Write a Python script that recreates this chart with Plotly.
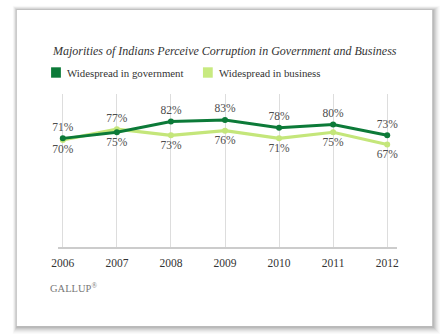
import plotly.graph_objects as go

# Survey years and share of Indians saying corruption is widespread (%)
years = [2006, 2007, 2008, 2009, 2010, 2011, 2012]
government = [71, 75, 82, 83, 78, 80, 73]
business = [70, 77, 73, 76, 71, 75, 67]
series_names = ["Widespread in government", "Widespread in business"]
title_text = "Majorities of Indians Perceive Corruption in Government and Business"

GOV_COLOR = "#0c7a38"
BIZ_COLOR = "#c4e67a"
SERIF = "Liberation Serif, Times New Roman, serif"
W, H = 444, 336


def px(x):
    return x / W


def py(y):
    return 1 - y / H


# label placement: the higher series of each year gets its label above
gov_pos = ["top center" if g >= b else "bottom center" for g, b in zip(government, business)]
biz_pos = ["top center" if b > g else "bottom center" for g, b in zip(government, business)]

fig = go.Figure()

fig.add_trace(go.Scatter(
    x=years, y=business, name=series_names[1], mode="lines+markers+text",
    line=dict(color=BIZ_COLOR, width=3.2), marker=dict(color=BIZ_COLOR, size=6),
    text=[f"{v}%" for v in business], textposition=biz_pos,
    textfont=dict(family=SERIF, size=11.5, color="#4d4d4d"), cliponaxis=False,
    showlegend=False,
))
fig.add_trace(go.Scatter(
    x=years, y=government, name=series_names[0], mode="lines+markers+text",
    line=dict(color=GOV_COLOR, width=3), marker=dict(color=GOV_COLOR, size=6),
    text=[f"{v}%" for v in government], textposition=gov_pos,
    textfont=dict(family=SERIF, size=11.5, color="#4d4d4d"), cliponaxis=False,
    showlegend=False,
))

shapes = []
# card drop shadow, built from soft layered rectangles (offset down-right)
for i, op in enumerate([0.02, 0.025, 0.03, 0.04, 0.05, 0.06, 0.07]):
    d = 7 - i
    shapes.append(dict(type="rect", xref="paper", yref="paper", layer="below",
                       x0=px(10 - d * 0.6), x1=px(434 + d + 1),
                       y0=py(326 + d + 1), y1=py(10 - d * 0.6),
                       line=dict(width=0), fillcolor=f"rgba(0,0,0,{op})"))
shapes.append(dict(type="rect", xref="paper", yref="paper", layer="below",
                   x0=px(10), x1=px(434), y0=py(326), y1=py(10),
                   line=dict(width=0), fillcolor="white"))

# legend swatches
shapes.append(dict(type="rect", xref="paper", yref="paper",
                   x0=px(45), x1=px(55), y0=py(77.7), y1=py(67.3),
                   line=dict(width=0), fillcolor=GOV_COLOR))
shapes.append(dict(type="rect", xref="paper", yref="paper",
                   x0=px(200), x1=px(210), y0=py(77.7), y1=py(67.3),
                   line=dict(width=0), fillcolor="#c8ea80"))

annotations = [
    dict(text=f"<i>{title_text}</i>", xref="paper", yref="paper",
         x=px(44), y=py(51), xanchor="left", yanchor="middle", showarrow=False,
         font=dict(family=SERIF, size=12, color="#333333")),
    dict(text=series_names[0], xref="paper", yref="paper",
         x=px(59), y=py(72.7), xanchor="left", yanchor="middle", showarrow=False,
         font=dict(family=SERIF, size=10.8, color="#333333")),
    dict(text=series_names[1], xref="paper", yref="paper",
         x=px(214), y=py(72.7), xanchor="left", yanchor="middle", showarrow=False,
         font=dict(family=SERIF, size=10.8, color="#333333")),
    dict(text="GALLUP<sup>®</sup>", xref="paper", yref="paper",
         x=px(42), y=py(287), xanchor="left", yanchor="middle", showarrow=False,
         font=dict(family=SERIF, size=10.5, color="#777777")),
]

fig.update_layout(
    width=W, height=H, margin=dict(l=0, r=0, t=0, b=0),
    paper_bgcolor="white", plot_bgcolor="rgba(0,0,0,0)",
    shapes=shapes, annotations=annotations, showlegend=False,
    xaxis=dict(domain=[px(52), px(398)], range=[2005.91, 2012.18],
               tickvals=years, ticktext=[str(y) for y in years],
               showgrid=True, gridcolor="#dddddd", gridwidth=1,
               showline=True, linecolor="#cccccc", linewidth=2,
               ticks="", zeroline=False, ticklabelstandoff=4,
               tickfont=dict(family=SERIF, size=11.5, color="#333333")),
    yaxis=dict(domain=[py(247), py(94)], range=[0, 100],
               showgrid=False, zeroline=False, showticklabels=False),
)

fig.write_html("out.html")
